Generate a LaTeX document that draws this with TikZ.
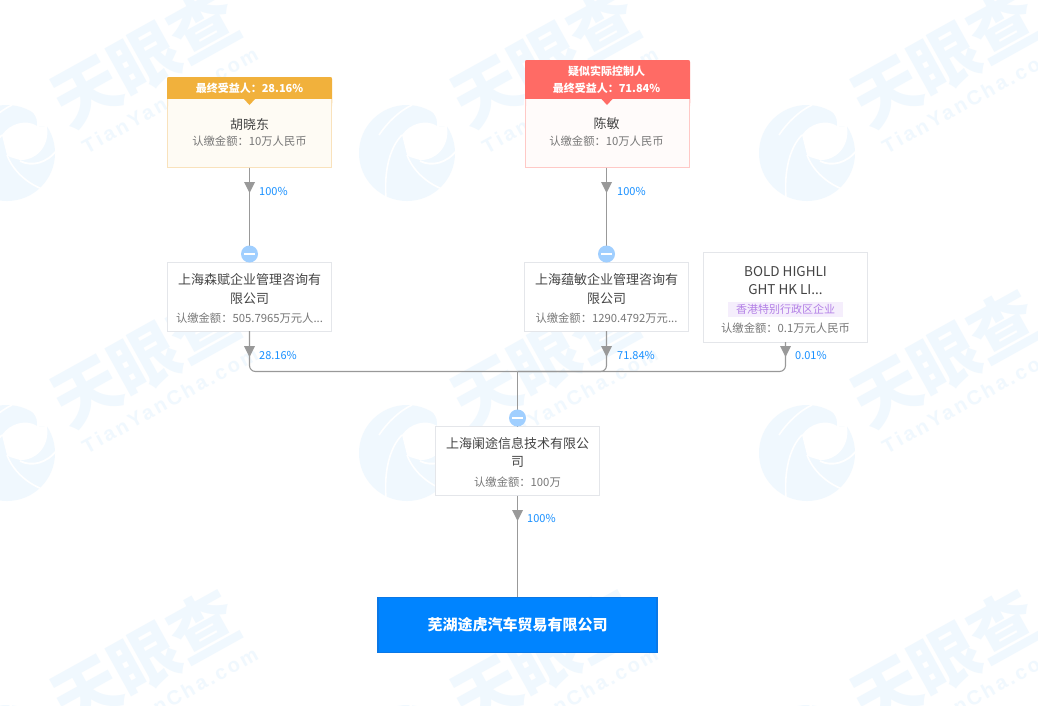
\documentclass[tikz,border=0pt]{standalone}
\usepackage{fontspec}
\setmainfont{Noto Sans CJK SC}
\newfontfamily\wmlatin[LetterSpace=14]{Liberation Sans}
\definecolor{wm}{HTML}{F0F8FE}
\definecolor{linec}{HTML}{999999}
\definecolor{boxb}{HTML}{E4E6EA}
\definecolor{txt}{HTML}{444444}
\definecolor{subc}{HTML}{777777}
\definecolor{pct}{HTML}{1890FF}
\definecolor{mn}{HTML}{A0CFFF}
\definecolor{goldh}{HTML}{F1B13C}
\definecolor{goldb}{HTML}{F9E2BC}
\definecolor{goldf}{HTML}{FEFBF4}
\definecolor{redh}{HTML}{FF6B65}
\definecolor{redb}{HTML}{FFC9C6}
\definecolor{redf}{HTML}{FFFBFA}
\definecolor{tagf}{HTML}{F5EEFC}
\definecolor{tagt}{HTML}{B380E6}
\definecolor{blue1}{HTML}{0084FF}
\definecolor{blue2}{HTML}{0A78E6}
\tikzset{
 x=1pt,y=-1pt,
 cobox/.style={draw=boxb,line width=1pt,fill=white,inner sep=0pt,outer sep=0pt},
 nm/.style={text=txt,font=\fontsize{13}{13}\selectfont,inner sep=0pt},
 sb/.style={text=subc,font=\fontsize{11.3}{12}\selectfont,inner sep=0pt},
 pc/.style={text=pct,font=\fontsize{11}{12}\selectfont,inner sep=0pt,anchor=west},
 ln/.style={draw=linec,line width=1.1pt},
 ah/.style={fill=linec,draw=none},
 mnc/.style={circle,fill=mn,draw=none,minimum size=17pt,inner sep=0pt},
 hd/.style={text=white,font=\fontsize{11}{12}\selectfont\bfseries,inner sep=0pt},
}
\newcommand{\wmlogo}[2]{%
 \begin{scope}[shift={(#1,#2)}]
  \fill[wm] (7,153) circle[radius=48];
  \begin{scope}[shift={(7,153)}]
   \fill[white] (-5,-18) .. controls (3,-30) and (20,-34) .. (30,-27) -- (40,-26)
      .. controls (43,-6) and (28,8) .. (13,7) -- (3,4) -- (0,2) -- cycle;
   \fill[white] (30,-27) .. controls (31,-37) and (25,-44) .. (15,-47) -- (20,-60) -- (60,-50) -- (40,-26) -- cycle;
   \draw[white,line width=1.6pt] (-28,-18) .. controls (-20,-30) and (-8,-42) .. (5,-48);
   \draw[white,line width=1.6pt] (-5,-18) .. controls (-18,-5) and (-23,20) .. (-21,45);
   \draw[white,line width=1.6pt] (0,2) .. controls (6,18) and (20,30) .. (35,36);
   \draw[white,line width=1.8pt] (13,8) .. controls (25,14) and (40,10) .. (50,-3);
  \end{scope}
 \end{scope}}
\newcommand{\wmtext}[2]{%
 \begin{scope}[shift={(#1,#2)}]
  \node[text=wm,rotate=29,font=\fontsize{67}{67}\selectfont\bfseries,inner sep=0pt] (wa#1-#2) at (145,59) {天眼查};
  \node[text=wm,rotate=29,font=\wmlatin\fontsize{20}{20}\selectfont\bfseries,inner sep=0pt] (wb#1-#2) at (170,100) {TianYanCha.com};
 \end{scope}}
\newcommand{\arrowh}[2]{\fill[ah] (#1-5.5,#2) -- (#1+5.5,#2) -- (#1,#2+11) -- cycle;}
\newcommand{\minus}[1]{\fill[white] ($(#1)+(-5.5,-1.2)$) rectangle ($(#1)+(5.5,1.2)$);}
\usetikzlibrary{calc}
\begin{document}
\begin{tikzpicture}
\useasboundingbox (0,0) rectangle (1038,705);
\fill[white] (0,0) rectangle (1038,705);
\begin{scope}
\clip (0,0) rectangle (1038,705);
\foreach \xx in {0,400,800}{\foreach \yy in {0,300,600}{\wmlogo{\xx}{\yy}}}
\foreach \xx in {0,400,800}{\foreach \yy in {0,300,600}{\wmtext{\xx}{\yy}}}
\end{scope}

% junction of the shareholder lines
\coordinate (jn) at (517.5,371.5);

% person boxes
\node[draw=goldb,fill=goldf,line width=1pt,inner sep=0pt,minimum width=164pt,minimum height=90pt] (pa) at (249.5,122) {};
\fill[goldh,rounded corners=2pt] (167,105) -- (167,77) -- (332,77) -- (332,105) -- cycle;
\fill[goldf] (167.5,99) rectangle (331.5,106);
\fill[goldb] (167,99) rectangle (168,106) (331,99) rectangle (332,106);
\fill[goldh] (244,99) -- (255,99) -- (249.5,105) -- cycle;
\node[hd] (pah) at (249.5,88) {最终受益人：28.16\%};
\node[nm] (pan) at (249.5,124.5) {胡晓东};
\node[sb] (pas) at (249.5,141) {认缴金额：10万人民币};

\node[draw=redb,fill=redf,line width=1pt,inner sep=0pt,minimum width=164pt,minimum height=107pt] (pb) at (607,113.5) {};
\fill[redh,rounded corners=2pt] (525,105) -- (525,60) -- (690,60) -- (690,105) -- cycle;
\fill[redf] (525.5,99) rectangle (689.5,106);
\fill[redb] (525,99) rectangle (526,106) (689,99) rectangle (690,106);
\fill[redh] (601.5,99) -- (612.5,99) -- (607,105) -- cycle;
\node[hd] (pbh1) at (606.5,71) {疑似实际控制人};
\node[hd] (pbh2) at (606.5,88) {最终受益人：71.84\%};
\node[nm] (pbn) at (606.5,124) {陈敏};
\node[sb] (pbs) at (606.5,141) {认缴金额：10万人民币};

% companies
\node[cobox,minimum width=164pt,minimum height=69pt] (ca) at (249.5,296.5) {};
\node[nm] (ca1) at (249.5,280) {上海森赋企业管理咨询有};
\node[nm] (ca2) at (249.5,299) {限公司};
\node[sb] (ca3) at (249.5,318) {认缴金额：505.7965万元人...};

\node[cobox,minimum width=164pt,minimum height=69pt] (cb) at (606.5,296.5) {};
\node[nm] (cb1) at (606.5,280) {上海蕴敏企业管理咨询有};
\node[nm] (cb2) at (606.5,299) {限公司};
\node[sb] (cb3) at (606.5,318) {认缴金额：1290.4792万元...};

\node[cobox,minimum width=164pt,minimum height=90pt] (cc) at (785.5,297) {};
\node[nm,font=\fontsize{13.5}{13}\selectfont] (cc1) at (785.5,272) {BOLD HIGHLI};
\node[nm,font=\fontsize{13.5}{13}\selectfont] (cc2) at (785.5,290) {GHT HK LI...};
\node[fill=tagf,text=tagt,font=\fontsize{11}{12}\selectfont,inner sep=0pt,minimum width=115pt,minimum height=15pt] (cct) at (785.5,309.5) {香港特别行政区企业};
\node[sb] (cc3) at (785.5,328) {认缴金额：0.1万元人民币};

\node[cobox,minimum width=164pt,minimum height=69pt] (cd) at (517.5,461) {};
\node[nm] (cd1) at (517.5,444) {上海阑途信息技术有限公};
\node[nm] (cd2) at (517.5,462) {司};
\node[sb] (cd3) at (517.5,482) {认缴金额：100万};

\node[draw=blue2,fill=blue1,line width=1.5pt,inner sep=0pt,minimum width=279pt,minimum height=55pt,text=white,font=\fontsize{15}{15}\selectfont\bfseries] (tg) at (517.5,625) {芜湖途虎汽车贸易有限公司};

% connectors
\draw[ln] (pa.south) -- (ca.north);
\draw[ln] (606.5,167.5) -- (cb.north);
\draw[ln,rounded corners=6pt] (ca.south) |- (jn);
\draw[ln,rounded corners=6pt] (cb.south) |- (jn);
\draw[ln,rounded corners=6pt] (cc.south) |- (jn);
\draw[ln] (jn) -- (cd.north);
\draw[ln] (cd.south) -- (tg.north);

% arrowheads
\arrowh{249.5}{182}
\arrowh{606.5}{182}
\arrowh{249.5}{346}
\arrowh{606.5}{346}
\arrowh{785.5}{346}
\arrowh{517.5}{510}

% collapse buttons
\node[mnc] (ma) at (249.5,254) {};
\minus{ma}
\node[mnc] (mb) at (606.5,254) {};
\minus{mb}
\node[mnc] (md) at (517.5,418) {};
\minus{md}

% percentages
\node[pc] (l1) at (259,191) {100\%};
\node[pc] (l2) at (617,191) {100\%};
\node[pc] (l3) at (259,355) {28.16\%};
\node[pc] (l4) at (617,355) {71.84\%};
\node[pc] (l5) at (795,355) {0.01\%};
\node[pc] (l6) at (527,518) {100\%};
\end{tikzpicture}
\end{document}
